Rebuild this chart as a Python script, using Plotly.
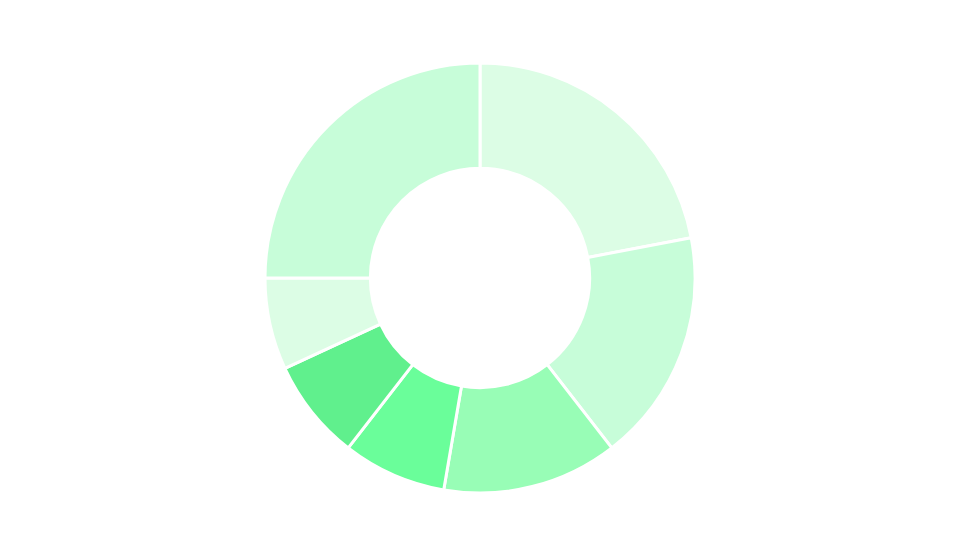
import plotly.graph_objects as go

labels = ['A', 'B', 'C', 'D', 'E', 'F', 'G']
values = [22.0, 17.5, 13.2, 7.8, 7.6, 6.9, 25.0]
colors = ['#dcfde5', '#c7fdd9', '#98fdb6', '#6afe9a', '#60f08d', '#dcfde5', '#c7fdd9']

fig = go.Figure(go.Pie(
    labels=labels,
    values=values,
    hole=0.51,
    sort=False,
    direction='clockwise',
    rotation=0,
    textinfo='none',
    hoverinfo='label+value',
    marker=dict(colors=colors, line=dict(color='white', width=3)),
    showlegend=False,
))

fig.update_layout(
    width=960, height=540,
    margin=dict(l=0, r=16, t=55, b=55),
    paper_bgcolor='white',
    plot_bgcolor='white',
)

fig.write_html("out.html")
